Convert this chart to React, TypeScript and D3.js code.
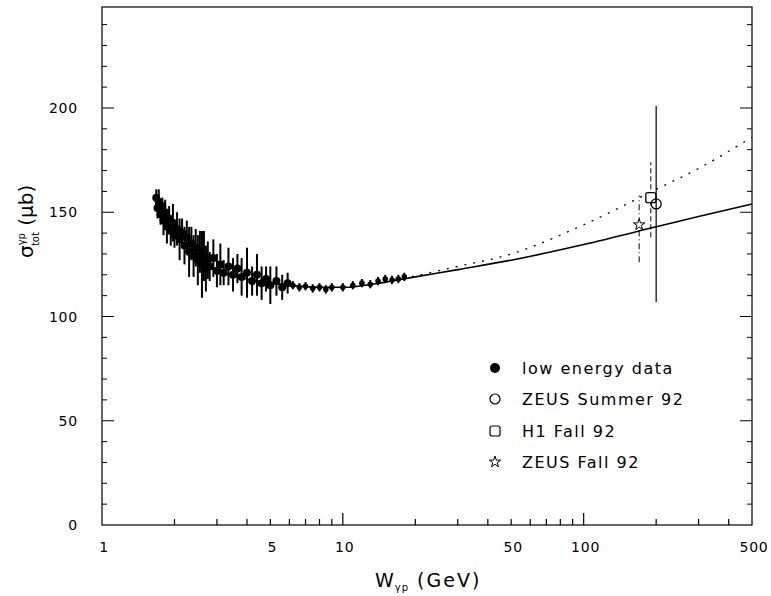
import React from "react";
import * as d3 from "d3";

const lowW = [1.68,1.7,1.72,1.75,1.78,1.8,1.83,1.86,1.9,1.93,1.97,2.0,2.05,2.1,2.15,2.2,2.25,2.3,2.35,2.4,2.45,2.5,2.55,2.6,2.65,2.7,2.75,2.8,2.9,3.0,3.1,3.2,3.35,3.5,3.65,3.8,4.0,4.2,4.4,4.6,4.8,5.0,5.3,5.6,5.9,6.2,6.6,7,7.5,8,8.5,9,10,11,12,13,14,15,16,17,18];
const lowSigma = [157,152,155,149,153,146,150,143,147,141,145,139,142,137,140,134,138,131,135,129,133,127,131,125,129,123,127,124,128,122,125,121,124,120,123,119,121,117,120,116,118,115,117,114,116,115,114,114.5,113.5,114,113,114,114,115,116,115.5,117,118,117.5,118,119];
const lowErr = [4,5,6,5,4,7,6,8,6,7,9,6,8,10,7,9,8,12,8,10,9,12,10,16,12,11,9,7,9,8,10,6,9,8,7,9,12,7,10,8,6,9,7,6,5,2,2,2,2,2,2,2,2,2,2,2,2,2,2,2,2];

const fitW = [2.5,3,4,5,6,8,10,15,20,30,50,100,200,300,500];
const fitSolid = [126,122,118,116,115,114,114,116.5,119,122.5,127,134.5,143,148,154];
const fitDotW = [15,20,30,50,100,200,300,500];
const fitDotted = [116.5,119.5,124,130,144,161,171,186];

const xTickMajor = [1,5,10,50,100,500];
const xTickLabels = ["1","5","10","50","100","500"];
const xMinorTicks = [2,3,4,5,6,7,8,9,20,30,40,50,60,70,80,90,200,300,400];
const xLongTicks = [10,100];
const yTickLabels = [0,50,100,150,200];

const zeusSummer = { w: 200, s: 154, lo: 107, hi: 201 };
const h1Fall = { w: 190, s: 157, lo: 138, hi: 174 };
const zeusFall = { w: 170, s: 144, lo: 126, hi: 158 };

const legendLabels = ["low energy data","ZEUS Summer 92","H1 Fall 92","ZEUS Fall 92"];

export default function App() {
  const left = 102, right = 752, top = 7, bottom = 525;
  const x = d3.scaleLog().domain([1, 500]).range([left, right]);
  const y = d3.scaleLinear().domain([0, 200]).range([bottom, 108]);
  const line = d3.line<[number, number]>().x(d => x(d[0])).y(d => y(d[1])).curve(d3.curveMonotoneX);
  const solid = line(fitW.map((w, i) => [w, fitSolid[i]]))!;
  const dotted = line(fitDotW.map((w, i) => [w, fitDotted[i]]))!;

  const yMinor: number[] = [];
  for (let v = 10; v <= 240; v += 10) if (v % 50 !== 0) yMinor.push(v);
  const yMajor = [50, 100, 150, 200];

  let xTickPath = "";
  xMinorTicks.forEach(v => { xTickPath += `M${x(v)},${bottom}V${bottom - 6}`; });
  xLongTicks.forEach(v => { xTickPath += `M${x(v)},${bottom}V${bottom - 12}`; });

  const font = "DejaVu Sans, sans-serif";
  const star = d3.symbol().type(d3.symbolStar).size(40)()!;
  const legY = [368, 399, 431, 462];

  return (
    <svg width={771} height={596} style={{ position: "absolute", left: 0, top: 0, background: "#fff" }}>
      <rect x={0} y={0} width={771} height={596} fill="#fff" />
      <rect x={left} y={top} width={right - left} height={bottom - top} fill="none" stroke="#000" strokeWidth={1.2} />
      <path d={xTickPath} fill="none" stroke="#000" strokeWidth={1.2} />
      {yMinor.map((v, i) => (
        <g key={"ym" + i}>
          <line x1={left} x2={left + 5} y1={y(v)} y2={y(v)} stroke="#000" />
          <line x1={right} x2={right - 5} y1={y(v)} y2={y(v)} stroke="#000" />
        </g>
      ))}
      {yMajor.map((v, i) => (
        <g key={"yM" + i}>
          <line x1={left} x2={left + 12} y1={y(v)} y2={y(v)} stroke="#000" />
          <line x1={right} x2={right - 12} y1={y(v)} y2={y(v)} stroke="#000" />
        </g>
      ))}
      {yTickLabels.map((v, i) => (
        <text key={"yl" + i} x={78} y={y(v) + 5} textAnchor="end" fontFamily={font} fontSize={14} letterSpacing={0.8}>{v}</text>
      ))}
      {xTickMajor.map((v, i) => (
        <text key={"xl" + i} x={x(v) + 2} y={552} textAnchor="middle" fontFamily={font} fontSize={14} letterSpacing={0.8}>{xTickLabels[i]}</text>
      ))}
      <text x={375} y={587} fontFamily={font} fontSize={19} letterSpacing={1}>W<tspan fontSize={10} dy={4}>γp</tspan><tspan dy={-4} fontSize={19} letterSpacing={2}> (GeV)</tspan></text>
      <text transform="translate(33,258) rotate(-90)" fontFamily={font} fontSize={20}>
        σ<tspan fontSize={10} dy={-8}>γp</tspan><tspan fontSize={10} dx={-13} dy={14}>tot</tspan><tspan fontSize={20} dy={-6}> (μb)</tspan>
      </text>
      <path d={dotted} fill="none" stroke="#000" strokeWidth={1.3} strokeDasharray="2,7" />
      <path d={solid} fill="none" stroke="#000" strokeWidth={1.6} />
      {lowW.map((w, i) => (
        <g key={"p" + i}>
          <line x1={x(w)} x2={x(w)} y1={y(lowSigma[i] - lowErr[i])} y2={y(lowSigma[i] + lowErr[i])} stroke="#000" strokeWidth={2} />
          <circle cx={x(w)} cy={y(lowSigma[i])} r={w < 6 ? 4 : 2.8} fill="#000" />
        </g>
      ))}
      <line x1={x(zeusFall.w)} x2={x(zeusFall.w)} y1={y(zeusFall.lo)} y2={y(zeusFall.hi)} stroke="#000" strokeDasharray="6,3,1,3" />
      <path d={star} transform={`translate(${x(zeusFall.w)},${y(zeusFall.s)})`} fill="#fff" stroke="#000" />
      <line x1={x(h1Fall.w)} x2={x(h1Fall.w)} y1={y(h1Fall.lo)} y2={y(h1Fall.hi)} stroke="#000" strokeDasharray="5,3" />
      <line x1={x(zeusSummer.w)} x2={x(zeusSummer.w)} y1={y(zeusSummer.lo)} y2={y(zeusSummer.hi)} stroke="#000" strokeWidth={1.2} />
      <rect x={x(h1Fall.w) - 5} y={y(h1Fall.s) - 5} width={10} height={10} rx={2} fill="#fff" stroke="#000" strokeWidth={1.3} />
      <circle cx={x(zeusSummer.w)} cy={y(zeusSummer.s)} r={5} fill="none" stroke="#000" strokeWidth={1.3} />
      <circle cx={495} cy={legY[0]} r={5} fill="#000" />
      <circle cx={495} cy={legY[1]} r={5} fill="none" stroke="#000" strokeWidth={1.2} />
      <rect x={490} y={legY[2] - 5} width={10} height={10} rx={2} fill="none" stroke="#000" strokeWidth={1.2} />
      <path d={star} transform={`translate(495,${legY[3]})`} fill="none" stroke="#000" />
      {legendLabels.map((t, i) => (
        <text key={"lg" + i} x={522} y={legY[i] + 6} fontFamily={font} fontSize={16} letterSpacing={1.5}>{t}</text>
      ))}
    </svg>
  );
}
